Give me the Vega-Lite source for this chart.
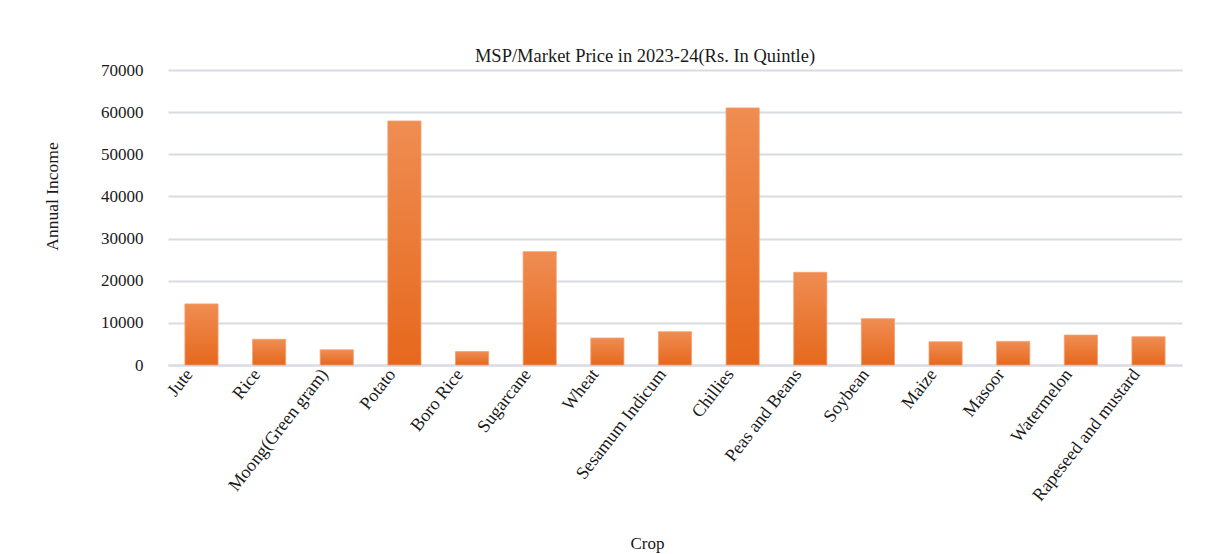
{
  "$schema": "https://vega.github.io/schema/vega-lite/v6.json",
  "width": 1014,
  "height": 295,
  "autosize": {"type": "none"},
  "padding": {"left": 168, "top": 70, "right": 27, "bottom": 189},
  "background": "white",
  "title": {
    "text": "MSP/Market Price in 2023-24(Rs. In Quintle)",
    "font": "Liberation Serif",
    "fontSize": 18.5,
    "fontWeight": "normal",
    "color": "#1a1a1a",
    "offset": -4,
    "dx": -30
  },
  "data": {
    "values": [
      {"crop": "Jute", "price": 14500},
      {"crop": "Rice", "price": 6100},
      {"crop": "Moong(Green gram)", "price": 3600},
      {"crop": "Potato", "price": 57900},
      {"crop": "Boro Rice", "price": 3200},
      {"crop": "Sugarcane", "price": 26900},
      {"crop": "Wheat", "price": 6400},
      {"crop": "Sesamum Indicum", "price": 7900},
      {"crop": "Chillies", "price": 61000},
      {"crop": "Peas and Beans", "price": 22000},
      {"crop": "Soybean", "price": 11000},
      {"crop": "Maize", "price": 5500},
      {"crop": "Masoor", "price": 5600},
      {"crop": "Watermelon", "price": 7100},
      {"crop": "Rapeseed and mustard", "price": 6700}
    ]
  },
  "mark": {
    "type": "bar",
    "color": {
      "gradient": "linear",
      "x1": 0, "y1": 0, "x2": 0, "y2": 1,
      "stops": [
        {"offset": 0, "color": "#ef8d52"},
        {"offset": 1, "color": "#e6681d"}
      ]
    },
    "stroke": "#f3a070",
    "strokeWidth": 0.8
  },
  "encoding": {
    "x": {
      "field": "crop",
      "type": "nominal",
      "sort": null,
      "scale": {"paddingInner": 0.51, "paddingOuter": 0.25},
      "axis": {
        "title": "Crop",
        "titleFont": "Liberation Serif",
        "titleFontSize": 17,
        "titleFontWeight": "normal",
        "titleColor": "#1a1a1a",
        "titleX": 479,
        "titleY": 178,
        "titleBaseline": "middle",
        "titleAnchor": "start",
        "titleAlign": "center",
        "labelFont": "Liberation Serif",
        "labelFontSize": 18,
        "labelColor": "#1a1a1a",
        "labelAngle": -52,
        "labelAlign": "right",
        "labelBaseline": "middle",
        "labelPadding": 6,
        "labelOffset": -12,
        "labelLimit": 0,
        "ticks": false,
        "domain": true,
        "domainColor": "#d9dbe3",
        "domainWidth": 2,
        "grid": false
      }
    },
    "y": {
      "field": "price",
      "type": "quantitative",
      "scale": {"domain": [0, 70000], "nice": false},
      "axis": {
        "title": "Annual Income",
        "titleFont": "Liberation Serif",
        "titleFontSize": 17.5,
        "titleFontWeight": "normal",
        "titleColor": "#1a1a1a",
        "titleX": -116,
        "titleY": 126,
        "titleAngle": 270,
        "titleAlign": "center",
        "titleBaseline": "middle",
        "values": [0, 10000, 20000, 30000, 40000, 50000, 60000, 70000],
        "format": "d",
        "labelFont": "Liberation Serif",
        "labelFontSize": 17,
        "labelColor": "#1a1a1a",
        "labelPadding": 25,
        "ticks": false,
        "domain": false,
        "grid": true,
        "gridColor": "#d9dbe3",
        "gridWidth": 2
      }
    }
  },
  "config": {"view": {"stroke": null}}
}
